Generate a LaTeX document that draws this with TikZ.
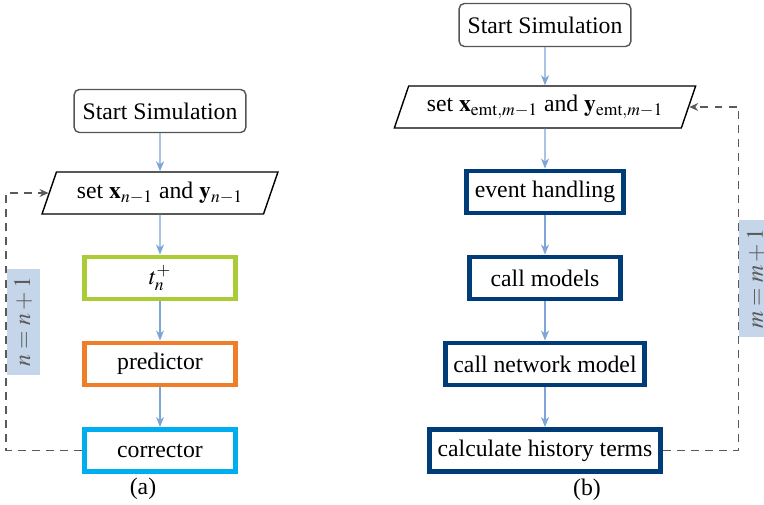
\documentclass[tikz,border=0pt]{standalone}
\usepackage{mathptmx}
\usepackage[no-math]{fontspec}
\setmainfont{Liberation Serif}
\usepackage{xcolor}
\usetikzlibrary{arrows.meta,shapes.geometric}

\definecolor{StartGray}{RGB}{85,85,85}
\definecolor{TGreen}{RGB}{170,205,55}
\definecolor{PredOrange}{RGB}{240,125,40}
\definecolor{CorrCyan}{RGB}{0,174,239}
\definecolor{EmtNavy}{RGB}{0,60,120}
\definecolor{FlowBlue}{RGB}{125,165,215}
\definecolor{NoteBlue}{RGB}{197,214,234}
\definecolor{LoopGray}{RGB}{90,90,90}

\begin{document}
\begin{tikzpicture}[x=1cm,y=1cm,thick,
  font=\fontsize{13.5}{16}\selectfont,
  startbox/.style={draw=StartGray,line width=0.8pt,rounded corners=3pt,minimum height=0.86cm,inner xsep=4.8pt},
  setbox/.style={draw,line width=0.8pt,trapezium,trapezium stretches=true,trapezium left angle=70,trapezium right angle=110,minimum height=0.84cm,inner xsep=2pt},
  stepbox/.style={draw=#1,line width=2.8pt,minimum width=3.02cm,minimum height=0.84cm,inner xsep=4.5pt},
  flow/.style={-{Stealth[length=2mm,width=1.6mm,inset=0.6mm]},FlowBlue,line width=0.7pt},
  backline/.style={-{Stealth[length=1.8mm,width=1.6mm]},LoopGray,line width=0.7pt,dash pattern=on 4.5pt off 3.5pt},
  loopnote/.style={fill=NoteBlue,rotate=90,anchor=north,minimum height=0.66cm,inner xsep=4.8pt,solid}]
  \useasboundingbox (0,0) rectangle (15.28,10.08);

  % (a) predictor-corrector
  \node[startbox] (starta) at (3.2,7.86) {Start Simulation};
  \node[setbox,minimum width=4.72cm] (seta) at (3.2,6.22) {set $\mathbf{x}_{n-1}$ and $\mathbf{y}_{n-1}$};
  \node[stepbox=TGreen] (tplus) at (3.2,4.52) {$t_n^+$};
  \node[stepbox=PredOrange] (pred) at (3.2,2.80) {predictor};
  \node[stepbox=CorrCyan] (corr) at (3.2,1.07) {corrector};
  \draw[flow] (starta) -- (seta);
  \draw[flow] (seta) -- (tplus);
  \draw[flow] (tplus) -- (pred);
  \draw[flow] (pred) -- (corr);
  \draw[backline] (corr.west) -- ++(-1.52,0) |- node[loopnote,pos=0.25] {$n = n+1$} (seta.west);
  \node (capa) at (2.86,0.30) {(a)};

  % (b) EMT simulation
  \node[startbox] (startb) at (10.9,9.58) {Start Simulation};
  \node[setbox,minimum width=6.04cm] (setb) at (10.9,7.94) {set $\mathbf{x}_{\mathrm{emt},m-1}$ and $\mathbf{y}_{\mathrm{emt},m-1}$};
  \node[stepbox=EmtNavy] (event) at (10.9,6.24) {event handling};
  \node[stepbox=EmtNavy] (models) at (10.9,4.52) {call models};
  \node[stepbox=EmtNavy] (network) at (10.9,2.80) {call network model};
  \node[stepbox=EmtNavy] (history) at (10.9,1.07) {calculate history terms};
  \draw[flow] (startb) -- (setb);
  \draw[flow] (setb) -- (event);
  \draw[flow] (event) -- (models);
  \draw[flow] (models) -- (network);
  \draw[flow] (network) -- (history);
  \draw[backline] (history.east) -- ++(1.52,0) |- node[loopnote,pos=0.25] {$m = m+1$} (setb.east);
  \node (capb) at (11.74,0.28) {(b)};
\end{tikzpicture}
\end{document}
